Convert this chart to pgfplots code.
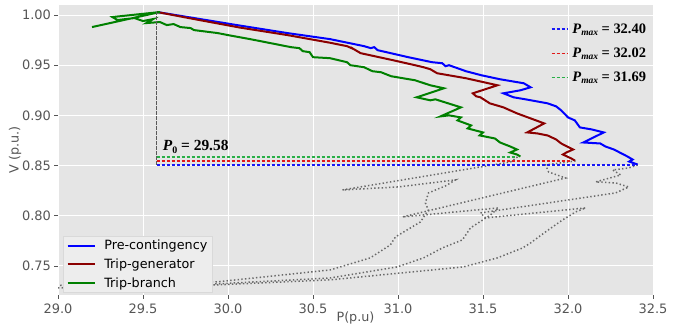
\documentclass[border=0pt]{standalone}
\usepackage{pgfplots}
\pgfplotsset{compat=1.18}
\usepackage{fontspec}
\setmainfont{DejaVu Sans}
\newfontfamily\lserif{Liberation Serif}
\definecolor{bggray}{RGB}{229,229,229}
\definecolor{txtgray}{RGB}{85,85,85}
\definecolor{dred}{RGB}{139,0,0}
\definecolor{dgreen}{RGB}{0,128,0}
\definecolor{pred}{RGB}{225,25,25}
\definecolor{pgreen}{RGB}{40,175,70}
\definecolor{pblue}{RGB}{25,25,245}
\definecolor{dotgray}{RGB}{105,105,105}
\newcommand{\plab}[3]{{\lserif\bfseries\textit{P}\raisebox{-0.35ex}{\fontsize{#3}{#3}\selectfont #1}\ =\ #2}}
\begin{document}
\begin{tikzpicture}
\path[use as bounding box] (0,0) rectangle (673bp,325bp);
\begin{axis}[
  at={(58bp,30bp)}, anchor=south west,
  scale only axis, width=595bp, height=290bp,
  xmin=29, xmax=32.5, ymin=0.721, ymax=1.01,
  axis background/.style={fill=bggray},
  axis line style={draw=none},
  grid=major, major grid style={white, line width=0.8bp},
  xtick={29,29.5,30,30.5,31,31.5,32,32.5},
  ytick={0.75,0.80,0.85,0.90,0.95,1.00},
  x tick label style={/pgf/number format/fixed, /pgf/number format/fixed zerofill, /pgf/number format/precision=1, yshift=-2bp},
  y tick label style={/pgf/number format/fixed, /pgf/number format/fixed zerofill, /pgf/number format/precision=2},
  /pgf/number format/assume math mode=true,
  tick label style={font=\fontsize{13}{15}\selectfont, text=txtgray},
  tick style={txtgray, line width=0.6bp},
  major tick length=3.5bp, tick align=outside, tick pos=left,
  label style={font=\fontsize{12.8}{15}\selectfont, text=txtgray},
  xlabel={P(p.u)}, ylabel={V (p.u.)},
  xlabel style={at={(axis description cs:0.5,-0.08)}, anchor=center},
  ylabel style={at={(axis description cs:-0.072,0.5)}, anchor=center},
  legend style={at={(axis description cs:0.009,0.008)}, anchor=south west,
    fill=bggray!70!white, draw=black!15,
    font=\fontsize{12.8}{14}\selectfont, row sep=3.5bp, column sep=6bp},
  legend image code/.code={\draw[#1] (0cm,0cm) -- (0.98cm,0cm);},
  legend cell align=left,
]
% lower (unstable) branches, dotted
\addplot[dotgray, line width=1.5bp, dash pattern=on 1.4bp off 2.3bp, forget plot] coordinates {
(31.703,0.8586) (31.662,0.8536) (30.673,0.8257) (31.002,0.8287) (31.338,0.8357)
(31.279,0.8297) (31.179,0.8227) (31.161,0.8127) (31.179,0.8058) (31.132,0.7938)
(31.073,0.7878) (30.985,0.7789) (30.955,0.7709) (30.837,0.7580) (30.602,0.7460)
(29.936,0.7341) (28.988,0.7306)};
\addplot[dotgray, line width=1.5bp, dash pattern=on 1.4bp off 2.3bp, forget plot] coordinates {
(32.045,0.8546) (31.868,0.8506) (31.886,0.8436) (31.986,0.8376) (31.026,0.7988)
(31.591,0.8078) (31.544,0.8008) (31.426,0.7878) (31.379,0.7759) (31.261,0.7679)
(31.150,0.7580) (30.996,0.7490) (30.602,0.7380) (29.936,0.7321) (29.112,0.7261)};
\addplot[dotgray, line width=1.5bp, dash pattern=on 1.4bp off 2.3bp, forget plot] coordinates {
(32.410,0.8506) (32.357,0.8476) (32.263,0.8456) (32.310,0.8406) (32.163,0.8337)
(32.280,0.8327) (32.357,0.8287) (32.280,0.8227) (31.485,0.8028) (31.515,0.7978)
(32.104,0.8078) (32.045,0.8038) (31.968,0.7958) (31.868,0.7839) (31.780,0.7729)
(31.733,0.7679) (31.585,0.7580) (31.385,0.7490) (30.602,0.7361) (29.936,0.7311)
(28.988,0.7281)};
% upper branches
\addplot[blue, line width=2bp] coordinates {
(29.583,1.003) (29.80,0.997) (30.07,0.9895) (30.35,0.982) (30.60,0.976) (30.80,0.969)
(30.84,0.967) (30.86,0.968) (30.88,0.965) (31.06,0.958) (31.20,0.953) (31.26,0.952)
(31.28,0.949) (31.30,0.950) (31.40,0.944) (31.49,0.940) (31.60,0.936) (31.74,0.932)
(31.78,0.928) (31.72,0.925) (31.62,0.922) (31.68,0.918) (31.75,0.916) (31.88,0.912)
(31.93,0.909) (31.96,0.905) (32.00,0.898) (32.04,0.895) (32.07,0.888) (32.14,0.886)
(32.21,0.883) (32.09,0.873) (32.19,0.872) (32.22,0.869) (32.27,0.866) (32.35,0.859)
(32.38,0.856) (32.36,0.854) (32.41,0.851)};
\addlegendentry{Pre-contingency}
\addplot[dred, line width=2bp] coordinates {
(29.583,1.003) (29.80,0.996) (30.07,0.9875) (30.35,0.980) (30.60,0.9724) (30.70,0.969)
(30.74,0.966) (30.72,0.968) (30.78,0.962) (30.97,0.955) (31.10,0.950) (31.15,0.948)
(31.19,0.946) (31.23,0.942) (31.40,0.937) (31.585,0.930) (31.44,0.922) (31.46,0.919)
(31.485,0.918) (31.54,0.912) (31.62,0.908) (31.70,0.902) (31.78,0.897) (31.86,0.892)
(31.76,0.883) (31.82,0.882) (31.88,0.880) (31.93,0.876) (31.96,0.872) (32.03,0.866)
(31.99,0.863) (31.97,0.861) (32.02,0.857) (32.04,0.855)};
\addlegendentry{Trip-generator}
\addplot[dgreen, line width=2bp] coordinates {
(29.20,0.988) (29.60,1.003) (29.32,0.998) (29.35,0.995) (29.45,0.997) (29.50,0.994)
(29.56,0.996) (29.52,0.992) (29.60,0.993) (29.64,0.990) (29.68,0.991) (29.72,0.988)
(29.78,0.987) (29.80,0.985) (29.94,0.982) (30.00,0.980) (30.13,0.976) (30.37,0.968)
(30.42,0.967) (30.44,0.964) (30.48,0.963) (30.50,0.958) (30.60,0.957) (30.70,0.953)
(30.72,0.950) (30.80,0.948) (30.85,0.944) (30.90,0.943) (30.96,0.939) (31.10,0.935)
(31.19,0.930) (31.27,0.927) (31.11,0.918) (31.19,0.915) (31.22,0.916) (31.37,0.908)
(31.25,0.899) (31.30,0.900) (31.37,0.898) (31.35,0.895) (31.43,0.890) (31.41,0.887)
(31.50,0.883) (31.48,0.880) (31.57,0.877) (31.60,0.873) (31.66,0.869) (31.70,0.866)
(31.66,0.863) (31.70,0.861) (31.72,0.859)};
\addlegendentry{Trip-branch}
\node[anchor=west, inner sep=0pt, font=\fontsize{15.5}{17}\selectfont] at (axis cs:29.615,0.8685) {\plab{0}{29.58}{10}};
\end{axis}
\begin{axis}[
  at={(58bp,30bp)}, anchor=south west,
  scale only axis, width=595bp, height=290bp,
  xmin=29, xmax=32.5, ymin=0.721, ymax=1.01,
  hide axis,
  legend style={at={(axis description cs:0.997,0.95)}, anchor=north east,
    draw=none, fill=none, font=\fontsize{14.5}{16}\selectfont, row sep=9bp, column sep=3bp},
  legend image code/.code={\draw[#1] (0cm,0cm) -- (0.53cm,0cm);},
  legend cell align=left,
]
% P0 vertical and Pmax horizontals
\addplot[draw=black!65, line width=1.3bp, dash pattern=on 3.5bp off 1.5bp, forget plot] coordinates {(29.58,0.8506) (29.58,1.003)};
\addplot[draw=pblue, line width=1.5bp, dash pattern=on 3.5bp off 1.5bp] coordinates {(29.58,0.8506) (32.40,0.8506)};
\addlegendentry{\plab{\textit{max}}{32.40}{9.5}}
\addplot[draw=pred, line width=1.5bp, dash pattern=on 3.5bp off 1.5bp] coordinates {(29.58,0.8543) (32.02,0.8543)};
\addlegendentry{\plab{\textit{max}}{32.02}{9.5}}
\addplot[draw=pgreen, line width=1.5bp, dash pattern=on 3.5bp off 1.5bp] coordinates {(29.58,0.8583) (31.69,0.8583)};
\addlegendentry{\plab{\textit{max}}{31.69}{9.5}}
\end{axis}
\end{tikzpicture}
\end{document}
